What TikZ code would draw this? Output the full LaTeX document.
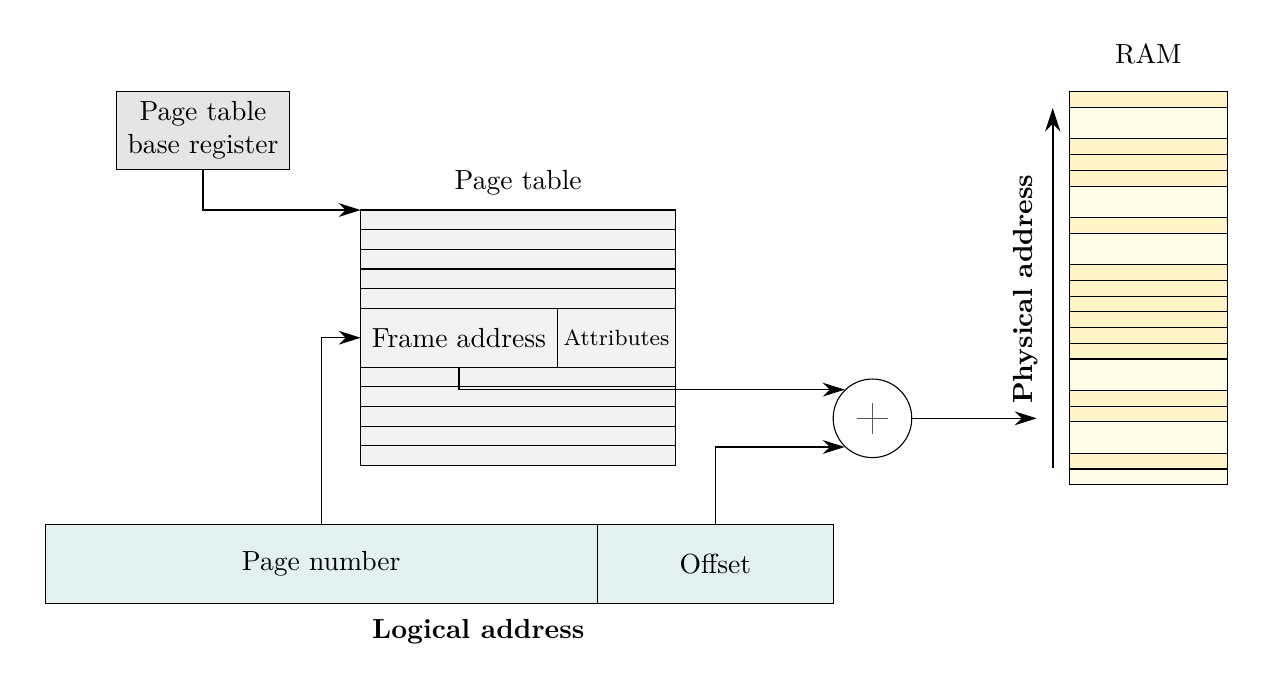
\documentclass[tikz,border=0pt]{standalone}
\usetikzlibrary{arrows.meta,calc}
\definecolor{ptbrfill}{RGB}{229,229,229}
\definecolor{ptfill}{RGB}{242,242,242}
\definecolor{lafill}{RGB}{226,240,240}
\definecolor{ramdark}{RGB}{255,245,200}
\definecolor{ramlight}{RGB}{255,252,232}
\tikzset{
  box/.style={draw, rectangle, inner sep=0pt, outer sep=0pt},
  conn/.style={-{Stealth[length=8pt,width=5pt]}},
  boldlabel/.style={font=\bfseries},
}
\begin{document}
\begin{tikzpicture}
\useasboundingbox (0,0) rectangle (16.285,-8.893);

% Page table base register
\node[box, fill=ptbrfill, minimum width=2.21cm, minimum height=1cm, align=center] (ptbr) at (2.583,-1.66) {Page table\\base register};

% Page table
\node[box, fill=ptfill, minimum width=4.008cm, minimum height=3.25cm, anchor=north west] (pt) at (4.589,-2.672) {};
\foreach \i in {1,2,3,4,9,10,11,12}
  \draw ($(pt.north west)+(0,-\i*0.25)$) -- ($(pt.north east)+(0,-\i*0.25)$);
\node[box, minimum width=2.501cm, minimum height=0.75cm, anchor=north west] (fa) at ($(pt.north west)+(0,-1.25)$) {Frame address};
\node[box, minimum width=1.507cm, minimum height=0.75cm, anchor=north west, font=\footnotesize] (attr) at (fa.north east) {Attributes};
\node (ptlabel) at (6.593,-2.33) {Page table};

% Logical address
\node[box, fill=lafill, minimum width=7.02cm, minimum height=1cm, anchor=north west] (pn) at (0.577,-6.675) {Page number};
\node[box, fill=lafill, minimum width=3.01cm, minimum height=1cm, anchor=north west] (off) at (pn.north east) {Offset};
\node[boldlabel] (la) at (6.085,-8.037) {Logical address};

% Adder
\node[draw, circle, minimum size=1cm, inner sep=0pt] (sum) at (11.10,-5.322) {};
\draw[black!65] ($(sum.center)+(-0.195,0)$) -- ($(sum.center)+(0.195,0)$);
\draw[black!65] ($(sum.center)+(0,-0.195)$) -- ($(sum.center)+(0,0.195)$);

% RAM
\node[box, minimum width=2.015cm, minimum height=5cm, anchor=north west] (ram) at (13.604,-1.167) {};
\foreach \a/\b/\c in {0/1/ramdark,1/3/ramlight,3/4/ramdark,4/5/ramdark,5/6/ramdark,6/8/ramlight,8/9/ramdark,9/11/ramlight,11/12/ramdark,12/13/ramdark,13/14/ramdark,14/15/ramdark,15/16/ramdark,16/17/ramdark,17/19/ramlight,19/20/ramdark,20/21/ramdark,21/23/ramlight,23/24/ramdark,24/25/ramlight}
  \draw[fill=\c] ($(ram.north west)+(0,-\a*0.2)$) rectangle ($(ram.north east)+(0,-\b*0.2)$);
\node (ramlabel) at (14.61,-0.687) {RAM};

% Physical address
\coordinate (phbot) at (13.393,-5.954);
\coordinate (phtop) at (13.393,-1.374);
\draw[thick, -{Stealth[length=8.5pt,width=5.5pt]}] (phbot) -- (phtop);
\node[boldlabel, rotate=90] (phlabel) at (13.05,-3.68) {Physical address};
\coordinate (phin) at (13.19,-5.322);

% Connectors
\draw[conn] (ptbr.south) |- (pt.north west);
\draw[conn] (pn.north) |- (fa.west);
\draw[conn] (fa.south) |- (sum.134);
\draw[conn] (off.north) |- (sum.226);
\draw[conn] (sum.east) -- (phin);
\end{tikzpicture}
\end{document}
